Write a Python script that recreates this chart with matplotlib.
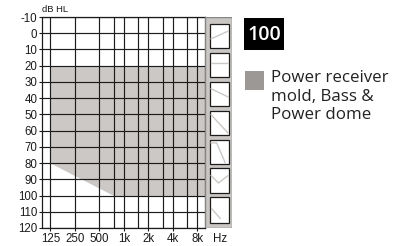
import matplotlib
matplotlib.use("Agg")
import matplotlib.pyplot as plt
from matplotlib.patches import Rectangle
from matplotlib import font_manager

# ---- data ----
freq_labels = ["125", "250", "500", "1k", "2k", "4k", "8k"]
freq_major = [125, 250, 500, 1000, 2000, 4000, 8000]
freq_minor = [750, 1500, 3000, 6000]
db_ticks = list(range(-10, 121, 10))
range_freq = [125, 750, 10000]
range_upper = [20, 20, 20]
range_lower = [80, 100, 100]
legend_number = "100"
legend_label = "Power receiver\nmold, Bass &\nPower dome"

names = {f.name for f in font_manager.fontManager.ttflist}
narrow = "Liberation Sans Narrow" if "Liberation Sans Narrow" in names else "Liberation Sans"
tick_size = 8.6 if narrow == "Liberation Sans Narrow" else 8.3
lfont = "Open Sans"

W, H = 402, 246
fig = plt.figure(figsize=(W / 100, H / 100), dpi=100)

def rect(x0, y0, x1, y1):
    return [x0 / W, 1 - y1 / H, (x1 - x0) / W, (y1 - y0) / H]

ax = fig.add_axes(rect(42.5, 17, 205, 228))
ax.set_xscale("log")
ax.set_xlim(100, 10000)
ax.set_ylim(120, -10)

shade = "#cbc8c5"
ax.fill_between(range_freq, range_upper, range_lower, color=shade, lw=0, zorder=1)

gridc = "#1c1c1c"
for f in freq_major + freq_minor:
    ax.axvline(f, color=gridc, lw=0.85, zorder=2)
for d in db_ticks:
    ax.axhline(d, color=gridc, lw=0.85, zorder=2)

ax.set_xticks(freq_major)
ax.set_xticklabels(freq_labels)
ax.set_xticks([], minor=True)
ax.set_yticks(db_ticks)
ax.set_yticklabels([str(d) for d in db_ticks])
ax.tick_params(axis="both", direction="out", length=2.2, width=0.8, color=gridc,
               labelsize=tick_size, pad=1.5, labelcolor="#1a1a1a")
for lab in ax.get_xticklabels() + ax.get_yticklabels():
    lab.set_fontfamily(narrow)
for s in ax.spines.values():
    s.set_color(gridc)
    s.set_linewidth(0.9)
    s.set_zorder(3)

fig.text(42.5 / W, 1 - 10 / H, "dB HL", fontsize=6.8, family=narrow,
         va="center", ha="left", color="#1a1a1a")
fig.text(220 / W, 1 - 238.5 / H, "Hz", fontsize=tick_size, family=narrow,
         va="center", ha="center", color="#1a1a1a")

# ---- side panel with icons ----
pax = fig.add_axes(rect(205.5, 17, 232.5, 227.5))
pax.set_xlim(0, 27)
pax.set_ylim(210.5, 0)
pax.axis("off")
pax.add_patch(Rectangle((0, 0), 27, 210.5, facecolor="#c9c6c3", edgecolor="#858585", lw=1.0))
boxes = [(7, 31), (36, 60), (65, 89), (94, 118), (123, 147), (151, 176), (180, 205.5)]
bx0, bx1 = 4.5, 23.5
iconc = "#cbc8c5"
for (y0, y1) in boxes:
    pax.add_patch(Rectangle((bx0, y0), bx1 - bx0, y1 - y0, facecolor="white",
                            edgecolor="#1c1c1c", lw=0.9))
def icon(i, xs, ys):
    y0, y1 = boxes[i]
    h = y1 - y0
    pax.plot([bx0 + x * (bx1 - bx0) for x in xs], [y0 + y * h for y in ys],
             color=iconc, lw=1.0, solid_capstyle="round")
icon(0, [0.05, 0.95], [0.62, 0.3])
icon(1, [0.05, 0.95], [0.42, 0.42])
icon(2, [0.05, 0.95], [0.28, 0.62])
icon(3, [0.05, 0.95], [0.15, 0.92])
icon(4, [0.05, 0.35, 0.8], [0.12, 0.12, 0.95])
icon(5, [0.05, 0.45, 0.95], [0.3, 0.6, 0.3])
icon(6, [0.08, 0.55], [0.45, 0.85])

# ---- legend ----
fig.patches.append(Rectangle((244 / W, 1 - 50 / H), 40 / W, 32 / H, transform=fig.transFigure,
                             facecolor="black", edgecolor="none"))
fig.text(264 / W, 1 - 34.5 / H, legend_number, color="white", fontsize=14, family=lfont,
         weight="semibold", ha="center", va="center")
fig.patches.append(Rectangle((245 / W, 1 - 90 / H), 19 / W, 19 / H, transform=fig.transFigure,
                             facecolor="#9b9896", edgecolor="none"))
fig.text(271.5 / W, 1 - 119.3 / H, legend_label, color="#222222", fontsize=12.2, family=lfont,
         ha="left", va="baseline", linespacing=1.22)

fig.savefig("out.png", dpi=100)
